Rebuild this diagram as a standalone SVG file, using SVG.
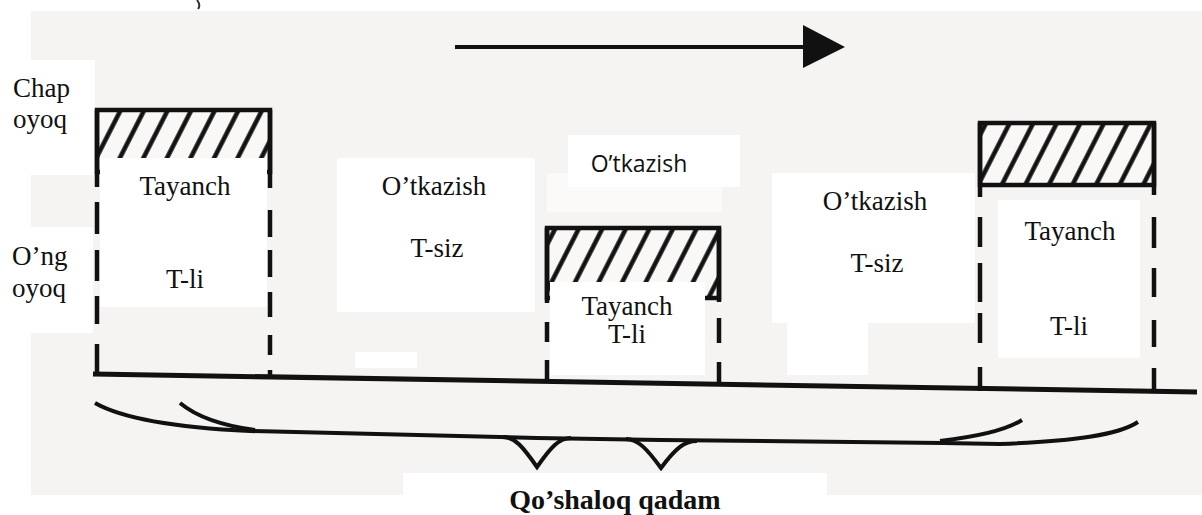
<svg xmlns="http://www.w3.org/2000/svg" width="1202" height="515" viewBox="0 0 1202 515">
<style>
 .ink{fill:none;stroke:#111;stroke-width:4.5}
 .thin{fill:none;stroke:#111;stroke-width:4}
 .box{fill:#fff}
 .hatch{fill:url(#hatch);stroke:#111;stroke-width:4.5}
 .ser{font-family:"Liberation Serif","DejaVu Serif",serif;font-size:27px;fill:#111}
 .sans{font-family:"Open Sans","Noto Sans",sans-serif;font-size:23px;fill:#111}
 .bold{font-family:"Liberation Serif","DejaVu Serif",serif;font-size:28px;font-weight:bold;fill:#111}
 .mid{text-anchor:middle}
</style>
<defs>
 <pattern id="hatch" patternUnits="userSpaceOnUse" width="21" height="40" patternTransform="rotate(27)">
  <rect width="21" height="40" fill="#f9f8f7"/>
  <line x1="10.5" y1="0" x2="10.5" y2="40" stroke="#111" stroke-width="4.5"/>
 </pattern>
 <marker id="arrowhead" markerUnits="userSpaceOnUse" markerWidth="46" markerHeight="46" refX="4" refY="22" orient="auto">
  <polygon points="2,0 44,22 2,43" fill="#111"/>
 </marker>
</defs>

<g id="background">
 <rect width="1202" height="515" fill="#fff"/>
 <rect x="31" y="11" width="1171" height="484" fill="#f6f4f2"/>
 <path d="M197,0 Q201,5 198,9" fill="none" stroke="#333" stroke-width="2"/>
 <rect x="547" y="173" width="175" height="39" fill="#fbfaf9"/>
 <rect x="355" y="352" width="62" height="16" fill="#fff"/>
 <rect x="787" y="320" width="81" height="55" fill="#fff"/>
</g>

<g id="connectors">
 <line id="direction-arrow" x1="455" y1="47" x2="805" y2="47" class="thin" marker-end="url(#arrowhead)"/>
 <path id="ground-line" d="M93,374 L1197,392" fill="none" stroke="#111" stroke-width="5"/>
 <path id="brace-outer" class="thin" d="M95,403 C125,420 185,428 250,431 L537,438 L661,440 L943,443 L1000,444 C1075,441 1118,435 1138,422"/>
 <path id="brace-inner-left" class="thin" d="M180,403 C198,418 225,426 255,430"/>
 <path id="brace-inner-right" class="thin" d="M940,441 C975,437 1005,431 1022,420"/>
 <path id="brace-tip-1" class="thin" d="M503,437 C515,437 523,447 537,467 C551,447 559,438 571,438"/>
 <path id="brace-tip-2" class="thin" d="M626,439 C638,439 647,449 661,468 C675,449 684,441 697,441"/>
</g>

<g id="label-left-foot">
 <rect class="box" x="0" y="60" width="95" height="115"/>
 <text class="ser" x="13" y="97">Chap</text>
 <text class="ser" x="13" y="128">oyoq</text>
</g>

<g id="label-right-foot">
 <rect class="box" x="0" y="227" width="93" height="106"/>
 <text class="ser" x="12" y="265">O’ng</text>
 <text class="ser" x="12" y="297">oyoq</text>
</g>

<g id="support-1">
 <rect class="hatch" x="97" y="110" width="173" height="62"/>
 <path class="ink" d="M97,110 V187 M97,202 V234 M97,250 V281 M97,296 V324 M97,344 V376"/>
 <path class="ink" d="M270,110 V188 M270,210 V237 M270,250 V277 M270,292 V317 M270,335 V355 M270,370 V379"/>
 <rect class="box" x="100" y="158" width="167" height="149"/>
 <text class="ser mid" x="185" y="195">Tayanch</text>
 <text class="ser mid" x="185" y="288">T-li</text>
</g>

<g id="transfer-1">
 <rect class="box" x="337" y="158" width="198" height="154"/>
 <text class="ser mid" x="434" y="195">O’tkazish</text>
 <text class="ser mid" x="437" y="257">T-siz</text>
</g>

<g id="transfer-label">
 <rect class="box" x="568" y="135" width="172" height="52"/>
 <text class="sans mid" x="639" y="172">O’tkazish</text>
</g>

<g id="support-2">
 <rect class="hatch" x="547" y="228" width="172" height="70"/>
 <path class="ink" d="M547,228 V303 M547,322 V342 M547,360 V383"/>
 <path class="ink" d="M719,228 V302 M719,318 V343 M719,362 V386"/>
 <rect class="box" x="550" y="282" width="155" height="93"/>
 <text class="ser mid" x="627" y="315">Tayanch</text>
 <text class="ser mid" x="627" y="343">T-li</text>
</g>

<g id="transfer-2">
 <rect class="box" x="772" y="173" width="203" height="150"/>
 <text class="ser mid" x="875" y="210">O’tkazish</text>
 <text class="ser mid" x="877" y="272">T-siz</text>
</g>

<g id="support-3">
 <rect class="hatch" x="980" y="123" width="174" height="62"/>
 <path class="ink" d="M980,123 V197 M980,217 V247 M980,263 V302 M980,313 V343 M980,367 V391"/>
 <path class="ink" d="M1154,123 V195 M1154,217 V248 M1154,268 V297 M1154,320 V347 M1154,368 V393"/>
 <rect class="box" x="998" y="200" width="142" height="158"/>
 <text class="ser mid" x="1070" y="240">Tayanch</text>
 <text class="ser mid" x="1069" y="335">T-li</text>
</g>

<g id="label-double-step">
 <rect class="box" x="403" y="473" width="424" height="42"/>
 <text class="bold mid" x="615" y="509">Qo’shaloq qadam</text>
</g>
</svg>
